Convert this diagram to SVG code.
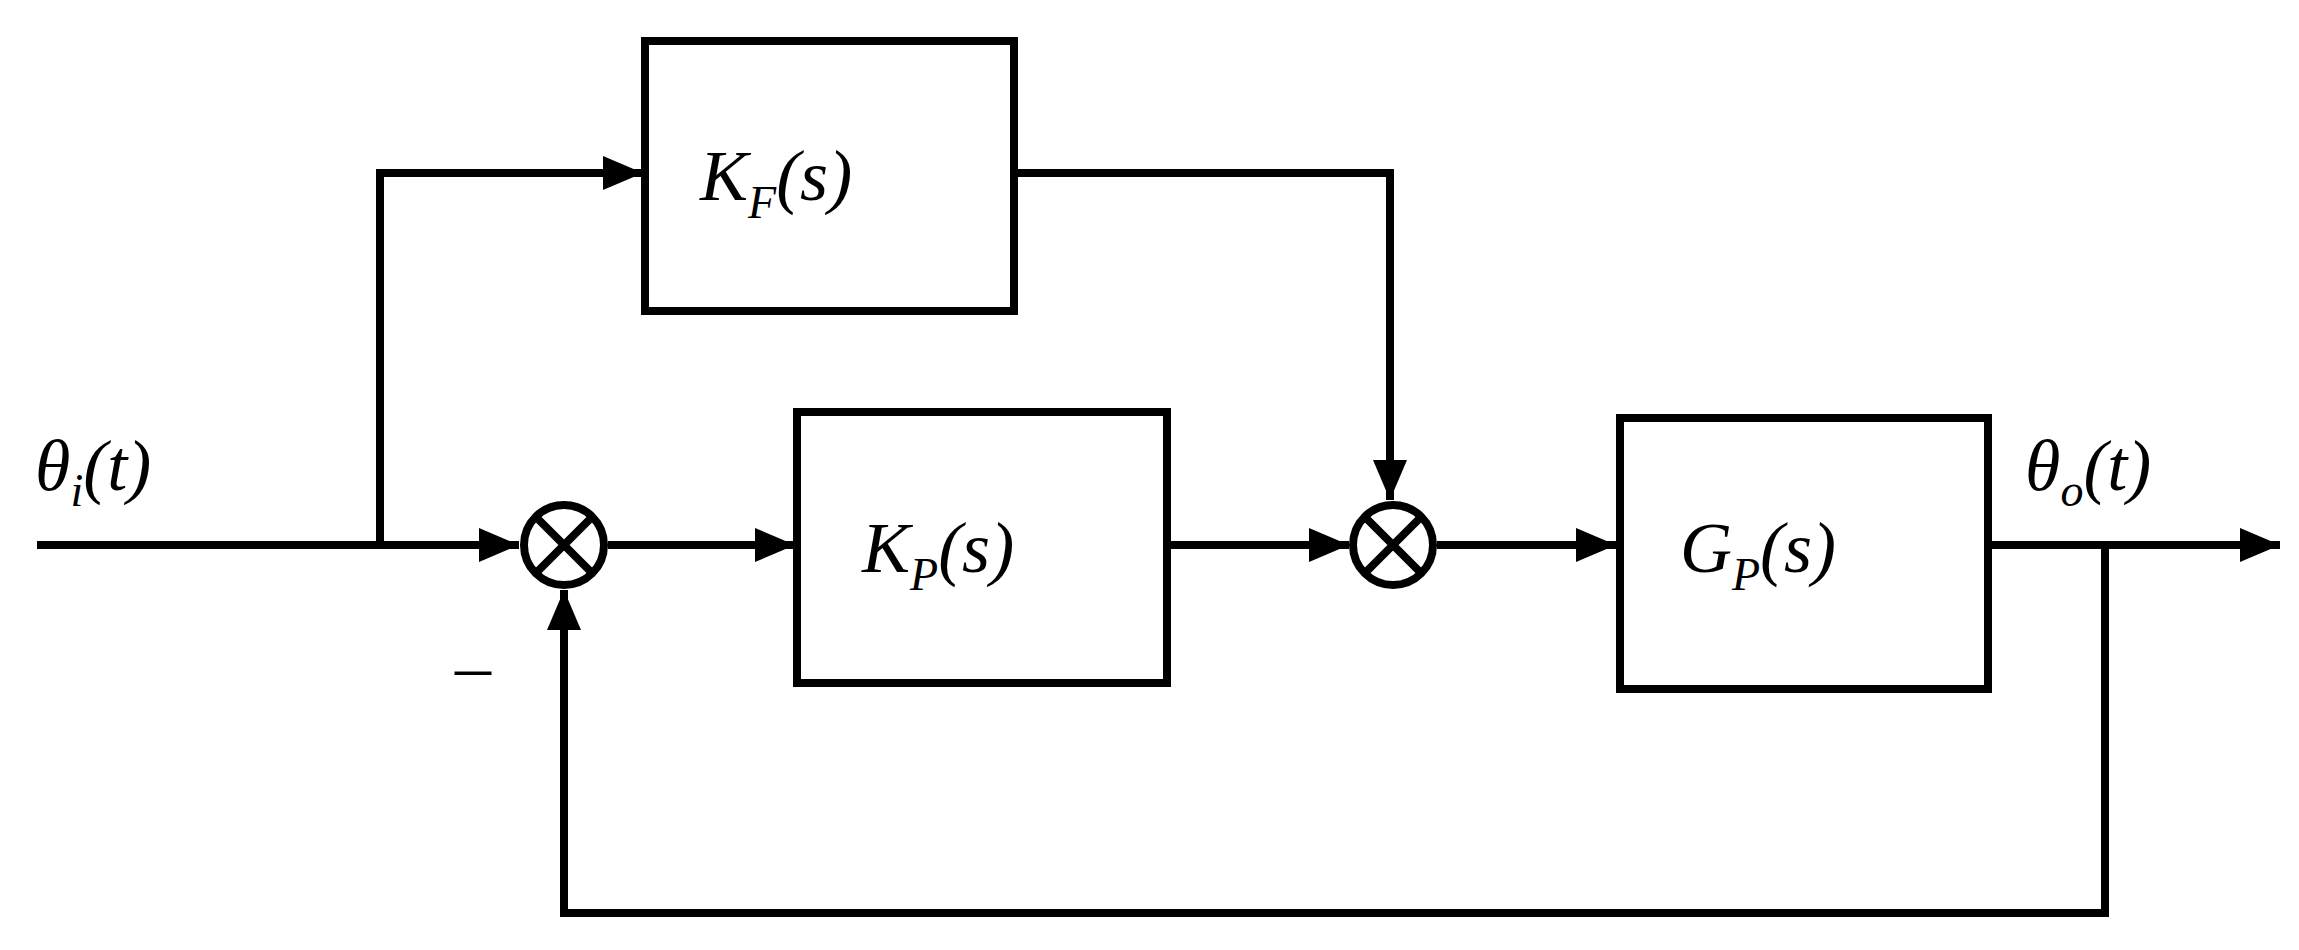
<svg xmlns="http://www.w3.org/2000/svg" width="2299" height="950" viewBox="0 0 2299 950">
<style>
.b{fill:#fff;stroke:#000;stroke-width:8}
.l{fill:none;stroke:#000;stroke-width:8}
.t{font-family:"Liberation Serif",serif;font-style:italic;font-size:72px;fill:#000}
.s{font-size:46px}
</style>
<defs><marker id="a" markerUnits="userSpaceOnUse" markerWidth="40" markerHeight="34" refX="40" refY="17" orient="auto"><path d="M0,0L40,17L0,34z" fill="#000"/></marker></defs>
<rect width="2299" height="950" fill="#fff"/>
<g id="connectors">
<path class="l" d="M37,545H519" marker-end="url(#a)"/>
<path class="l" d="M380,545V173H643" marker-end="url(#a)"/>
<path class="l" d="M1014,173H1390V500" marker-end="url(#a)"/>
<path class="l" d="M608,545H795" marker-end="url(#a)"/>
<path class="l" d="M1167,545H1349" marker-end="url(#a)"/>
<path class="l" d="M1437,545H1616" marker-end="url(#a)"/>
<path class="l" d="M1988,545H2280" marker-end="url(#a)"/>
<path class="l" d="M2105,545V913H564V590" marker-end="url(#a)"/>
</g>
<g id="KF"><rect class="b" x="645" y="41" width="369" height="270"/><text class="t" x="700" y="200">K<tspan class="s" dy="18">F</tspan><tspan dy="-18">(s)</tspan></text></g>
<g id="KP"><rect class="b" x="797" y="412" width="370" height="271"/><text class="t" x="862" y="572">K<tspan class="s" dy="18">P</tspan><tspan dy="-18">(s)</tspan></text></g>
<g id="GP"><rect class="b" x="1620" y="418" width="368" height="271"/><text class="t" x="1680" y="572">G<tspan class="s" dy="18">P</tspan><tspan dy="-18">(s)</tspan></text></g>
<g id="sum1"><circle class="b" cx="564" cy="545" r="40"/><path class="l" d="M536,517L592,573M592,517L536,573"/></g>
<g id="sum2"><circle class="b" cx="1393" cy="545" r="40"/><path class="l" d="M1365,517L1421,573M1421,517L1365,573"/></g>
<g id="labels">
<text class="t" x="35" y="490">θ<tspan class="s" dy="16">i</tspan><tspan dy="-16">(t)</tspan></text>
<text class="t" x="2025" y="490">θ<tspan class="s" dy="16">o</tspan><tspan dy="-16">(t)</tspan></text>
<text class="t" x="455" y="690" style="font-style:normal">–</text>
</g>
</svg>
